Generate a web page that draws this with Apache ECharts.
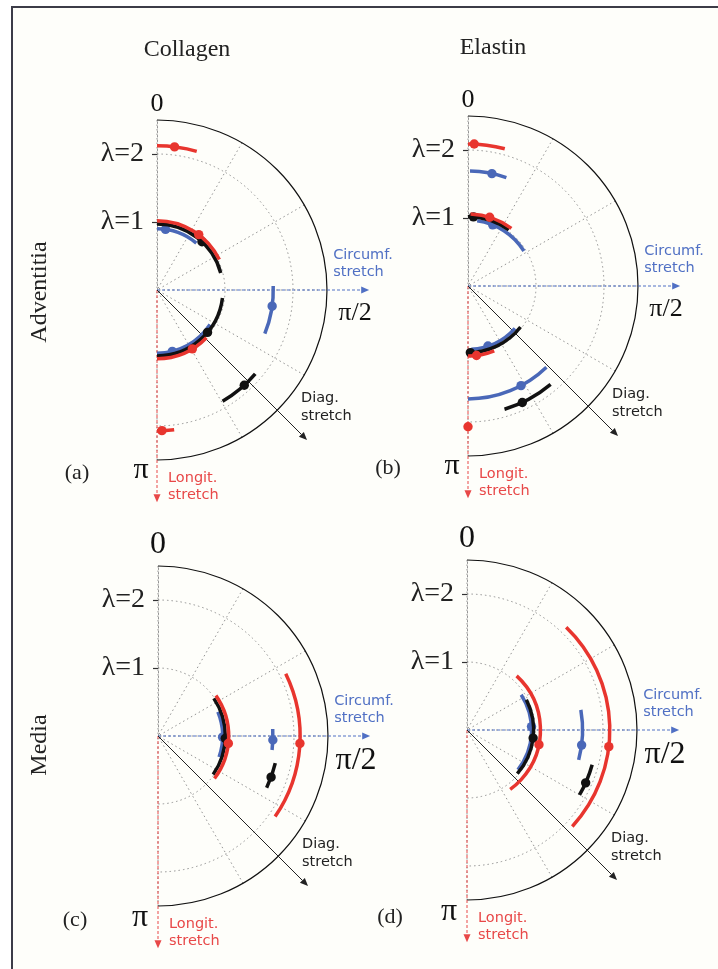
<!DOCTYPE html>
<html>
<head>
<meta charset="utf-8">
<script src="https://cdn.jsdelivr.net/npm/echarts@6/dist/echarts.min.js"></script>
<style>
  html, body { margin: 0; padding: 0; background: #fff; }
  #chart { width: 718px; height: 969px; }
</style>
</head>
<body>
<div id="chart"></div>
<script>
// angle in degrees: 0 = top, 90 = π/2, 180 = π ; radius = stretch λ
// every arc: [lambda, fromAngle, toAngle, markerAngle]
const angleLabels = ['0', 'π/2', 'π'];
const lambdaTicks = [1, 2];
const stretchArrowLambda = 3.12;

// (a) collagen, adventitia
const redA = [[2.12, 0, 16, 7], [1.02, 0, 64, 37], [1.01, 134, 180, 149], [2.07, 173, 180, 178]];
const blueA = [[0.9, 0, 40, 8], [0.93, 123, 180, 166], [1.71, 88, 112, 98]];
const blackA = [[0.97, 0, 75, 43], [0.97, 97, 180, 130], [1.9, 130.5, 149.5, 137.5]];
// (b) elastin, adventitia
const redB = [[2.09, 0, 15, 2.5], [1.06, 2, 37, 17.5], [1.03, 158, 180, 173], [2.07, 179, 180, 180]];
const blueB = [[1.69, 1, 19.5, 12], [0.97, 8, 58, 22], [0.93, 132, 177, 161.6], [1.66, 136, 180, 152]];
const blackB = [[1.02, 0, 36, 4.5], [0.98, 128, 180, 178], [1.89, 140, 163.5, 155]];
// (c) collagen, media
const redC = [[1.04, 55, 127, 96], [2.09, 64, 124.5, 93]];
const blueC = [[0.95, 68, 109, 91], [1.69, 86.5, 97, 92]];
const blackC = [[0.99, 56, 125, 92], [1.77, 103, 115.5, 110]];
// (d) elastin, media
const redD = [[1.08, 42.5, 144, 101.5], [2.1, 44, 132.5, 96.7]];
const blueD = [[0.95, 57, 128, 87], [1.7, 80, 105, 97.5]];
const blackD = [[0.98, 63, 131, 97], [1.91, 105.5, 120, 114]];

const RED = '#e8352e';
const BLUE = '#4a68b8';
const BLACK = '#111111';
const SERIF = 'Liberation Serif';
const SANS = 'DejaVu Sans';

const panels = [
  { center: [157, 290], red: redA, blue: blueA, black: blackA, big: false },
  { center: [468, 286], red: redB, blue: blueB, black: blackB, big: false },
  { center: [158, 736], red: redC, blue: blueC, black: blackC, big: true },
  { center: [467, 730], red: redD, blue: blueD, black: blackD, big: true },
];

const gridLine = { color: '#939393', width: 1, type: [1.5, 3] };

function arcItem(params, api) {
  const cs = params.coordSys;
  const lam = api.value(0);
  const p0 = api.coord([lam, api.value(1)]);
  const p1 = api.coord([lam, api.value(2)]);
  const pm = api.coord([lam, api.value(3)]);
  const r = Math.hypot(p0[0] - cs.cx, p0[1] - cs.cy);
  const color = api.visual('color');
  return {
    type: 'group',
    children: [
      {
        type: 'arc',
        shape: {
          cx: cs.cx, cy: cs.cy, r: r,
          startAngle: Math.atan2(p0[1] - cs.cy, p0[0] - cs.cx),
          endAngle: Math.atan2(p1[1] - cs.cy, p1[0] - cs.cx),
          clockwise: true,
        },
        style: { stroke: color, lineWidth: 3.5, fill: 'none' },
      },
      { type: 'circle', shape: { cx: pm[0], cy: pm[1], r: 4.7 }, style: { fill: color } },
    ],
  };
}

function arrow(cs, end, color, dashed) {
  const dx = end[0] - cs.cx, dy = end[1] - cs.cy;
  const len = Math.hypot(dx, dy);
  const ux = dx / len, uy = dy / len;
  const bx = end[0] - ux * 8, by = end[1] - uy * 8;
  return [
    {
      type: 'line',
      shape: { x1: cs.cx, y1: cs.cy, x2: bx, y2: by },
      style: { stroke: color, lineWidth: 1, lineDash: dashed ? [3, 2] : null },
    },
    {
      type: 'polygon',
      shape: { points: [end, [bx - uy * 3.5, by + ux * 3.5], [bx + uy * 3.5, by - ux * 3.5]] },
      style: { fill: color },
    },
  ];
}

function makeDecor(big) {
  const fs = big ? 32 : 26;
  return function (params, api) {
    const cs = params.coordSys;
    const blueEnd = api.coord([stretchArrowLambda, 90]);
    const redEnd = api.coord([stretchArrowLambda, 180]);
    const diagEnd = api.coord([stretchArrowLambda, 135]);
    const top = api.coord([2.5, 0]);
    const right = api.coord([2.5, 90]);
    const bottom = api.coord([2.5, 180]);
    const txt = (x, y, text, size, font, color, align, va) => ({
      type: 'text', x: x, y: y,
      style: { text: text, fontSize: size, fontFamily: font, fill: color, align: align, verticalAlign: va, lineHeight: size * 1.2 },
    });
    return {
      type: 'group',
      children: [
        ...arrow(cs, blueEnd, '#5070c4', true),
        ...arrow(cs, redEnd, '#e84848', true),
        ...arrow(cs, diagEnd, '#222', false),
        txt(blueEnd[0] - 36, blueEnd[1] - 9, 'Circumf.\nstretch', 14.5, SANS, '#5070c4', 'left', 'bottom'),
        txt(diagEnd[0] - 6, diagEnd[1] - 50, 'Diag.\nstretch', 14.5, SANS, '#222', 'left', 'top'),
        txt(redEnd[0] + 11, redEnd[1] - 33, 'Longit.\nstretch', 14.5, SANS, '#e84848', 'left', 'top'),
        txt(top[0], top[1] - (big ? 21 : 16), angleLabels[0], fs, SERIF, '#111', 'center', 'middle'),
        txt(right[0] + 28, right[1] + (big ? 25 : 23), angleLabels[1], fs, SERIF, '#111', 'center', 'middle'),
        txt(bottom[0] - (big ? 18 : 16), bottom[1] + (big ? 12 : 10), angleLabels[2], big ? 32 : 30, SERIF, '#111', 'center', 'middle'),
      ],
    };
  };
}

const chart = echarts.init(document.getElementById('chart'));

const series = [];
panels.forEach((p, i) => {
  series.push({ type: 'custom', coordinateSystem: 'polar', polarIndex: i, renderItem: makeDecor(p.big), data: [[0, 0]], silent: true, z: 1 });
  [[p.blue, BLUE], [p.black, BLACK], [p.red, RED]].forEach(([arcs, color]) => {
    series.push({
      type: 'custom', coordinateSystem: 'polar', polarIndex: i,
      renderItem: arcItem, data: arcs, itemStyle: { color: color }, z: 3,
    });
  });
});

chart.setOption({
  backgroundColor: '#ffffff',
  animation: false,
  polar: panels.map(p => ({ center: p.center, radius: 170 })),
  angleAxis: panels.map((p, i) => ({
    polarIndex: i,
    type: 'value',
    min: 0,
    max: 180,
    interval: 30,
    startAngle: 90,
    endAngle: -90,
    clockwise: true,
    axisLine: { lineStyle: { color: '#111', width: 1.2 } },
    axisTick: { show: false },
    axisLabel: { show: false },
    splitLine: { lineStyle: gridLine },
  })),
  radiusAxis: panels.map((p, i) => ({
    polarIndex: i,
    type: 'value',
    min: 0,
    max: 2.5,
    interval: 0.5,
    axisLine: { show: true, lineStyle: gridLine },
    axisTick: { show: true, length: 5, customValues: lambdaTicks, lineStyle: { color: '#333', width: 1.2 } },
    axisLabel: {
      customValues: lambdaTicks,
      formatter: v => 'λ=' + v,
      fontFamily: SERIF,
      fontSize: 28,
      color: '#222',
      margin: 13,
    },
    splitLine: { lineStyle: gridLine },
  })),
  graphic: [
    { type: 'rect', z: -100, silent: true, shape: { x: 12, y: 7, width: 720, height: 980 }, style: { fill: '#fefefa', stroke: '#3c3c48', lineWidth: 2 } },
    { type: 'text', x: 187, y: 50, style: { text: 'Collagen', fontSize: 24, fontFamily: SERIF, fill: '#222', align: 'center', verticalAlign: 'middle' } },
    { type: 'text', x: 493, y: 48, style: { text: 'Elastin', fontSize: 24, fontFamily: SERIF, fill: '#222', align: 'center', verticalAlign: 'middle' } },
    { type: 'text', x: 40, y: 292, rotation: Math.PI / 2, style: { text: 'Adventitia', fontSize: 24, fontFamily: SERIF, fill: '#222', align: 'center', verticalAlign: 'middle' } },
    { type: 'text', x: 40, y: 745, rotation: Math.PI / 2, style: { text: 'Media', fontSize: 24, fontFamily: SERIF, fill: '#222', align: 'center', verticalAlign: 'middle' } },
    { type: 'text', x: 77, y: 473, style: { text: '(a)', fontSize: 22, fontFamily: SERIF, fill: '#222', align: 'center', verticalAlign: 'middle' } },
    { type: 'text', x: 388, y: 468, style: { text: '(b)', fontSize: 22, fontFamily: SERIF, fill: '#222', align: 'center', verticalAlign: 'middle' } },
    { type: 'text', x: 75, y: 920, style: { text: '(c)', fontSize: 22, fontFamily: SERIF, fill: '#222', align: 'center', verticalAlign: 'middle' } },
    { type: 'text', x: 390, y: 917, style: { text: '(d)', fontSize: 22, fontFamily: SERIF, fill: '#222', align: 'center', verticalAlign: 'middle' } },
  ],
  series: series,
});
</script>
</body>
</html>
